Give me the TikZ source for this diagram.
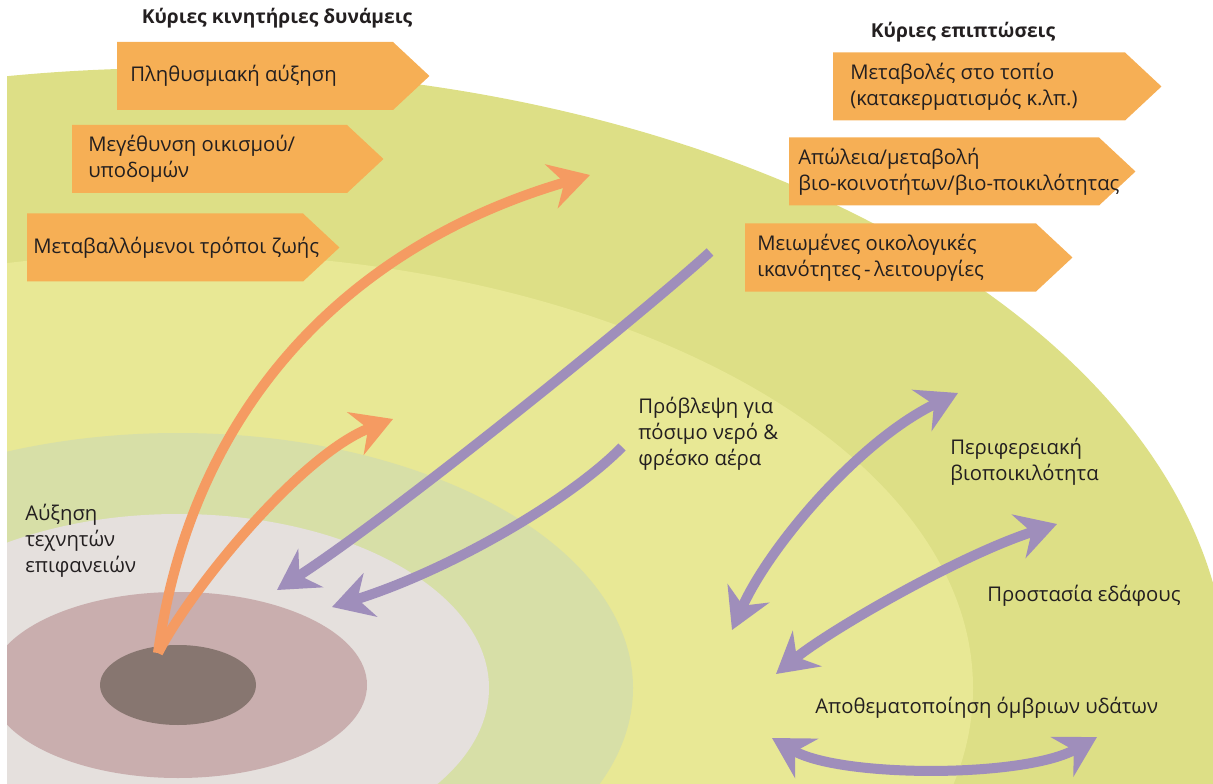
\documentclass[tikz,border=0pt]{standalone}
\usepackage{fontspec}
\setmainfont{Open Sans}
\usepackage{xcolor}
\usepackage{tikz}
\usetikzlibrary{positioning,shapes.geometric,shapes.symbols,arrows.meta}

\definecolor{outergreen}{HTML}{DDDF86}
\definecolor{paleyellow}{HTML}{E8E895}
\definecolor{sage}{HTML}{D7DFA7}
\definecolor{lightgrey}{HTML}{E5E0DD}
\definecolor{rosy}{HTML}{C9AEAE}
\definecolor{coredark}{HTML}{877670}
\definecolor{boxorange}{HTML}{F6AF55}
\definecolor{arroworange}{HTML}{F59B62}
\definecolor{arrowpurple}{HTML}{9F8EBB}
\definecolor{ink}{HTML}{231F20}

\tikzset{
    zone/.style={ellipse, draw=none, inner sep=0pt},
    driver/.style={signal, signal to=east, signal pointer angle=86, fill=boxorange,
        minimum height=51pt, anchor=west, inner sep=0pt, outer sep=0pt},
    boxtext/.style={align=left, inner sep=0pt},
    label/.style={align=left, anchor=west, inner sep=0pt},
    head/.style={font=\fontsize{14.4pt}{17pt}\selectfont\bfseries, inner sep=0pt},
    push/.style={draw=arroworange, line width=7.5pt,
        -{Stealth[length=30pt, width=34pt, inset=10pt]}},
    pull/.style={draw=arrowpurple, line width=7.5pt,
        -{Stealth[length=30pt, width=34pt, inset=10pt]}},
    both/.style={draw=arrowpurple, line width=7.5pt,
        {Stealth[length=30pt, width=34pt, inset=10pt]}-{Stealth[length=30pt, width=34pt, inset=10pt]}}
}

\begin{document}
\begin{tikzpicture}[x=0.75pt, y=-0.75pt,
        every node/.style={text=ink, font=\fontsize{15.2pt}{19.5pt}\selectfont}]
    \useasboundingbox (0,0) rectangle (1213,784);
    \begin{scope}
        \clip (7,0) rectangle (1213,784);
        % Zones
        \node[zone, fill=outergreen, minimum width=1575pt, minimum height=930pt] (region) at (178,688) {};
        \node[zone, fill=paleyellow, minimum width=1192.5pt, minimum height=652.5pt] (catchment) at (178,688) {};
        \node[zone, fill=sage, minimum width=682.5pt, minimum height=382.5pt] (fringe) at (178,688) {};
        \node[zone, fill=lightgrey, minimum width=466.5pt, minimum height=261pt] (suburb) at (178,688) {};
        \node[zone, fill=rosy, minimum width=283.5pt, minimum height=139.5pt] (town) at (178,685) {};
        \node[zone, fill=coredark, minimum width=117pt, minimum height=60pt] (core) at (178,685) {};
    \end{scope}

    % Drivers
    \node[head] (drivershead) at (277,18) {Κύριες κινητήριες δυνάμεις};
    \node[driver, text width=207pt] (pop) at (117,76) {};
    \node[driver, text width=206.25pt] (settle) at (72,159) {};
    \node[driver, text width=207pt] (life) at (27,247.5) {};
    \node[boxtext, right=9.75pt of pop.west] (poptext) {Πληθυσμιακή αύξηση};
    \node[boxtext, right=12pt of settle.west] (settletext) {Μεγέθυνση οικισμού/\\υποδομών};
    \node[boxtext, right=4.5pt of life.west] (lifetext) {Μεταβαλλόμενοι τρόποι ζωής};

    % Impacts
    \node[head] (impactshead) at (963,32) {Κύριες επιπτώσεις};
    \node[driver, text width=219pt] (landscape) at (833,86.5) {};
    \node[driver, text width=232.5pt] (biotic) at (789,171.5) {};
    \node[driver, text width=218.25pt] (ecofunc) at (745,257.5) {};
    \node[boxtext, right=12.75pt of landscape.west] (landscapetext) {Μεταβολές στο τοπίο\\(κατακερματισμός κ.λπ.)};
    \node[boxtext, right=6.75pt of biotic.west] (biotictext) {Απώλεια/μεταβολή\\βιο-κοινοτήτων/βιο-ποικιλότητας};
    \node[boxtext, right=9pt of ecofunc.west] (ecofunctext) {Μειωμένες οικολογικές\\ικανότητες\,-\,λειτουργίες};

    % Labels
    \node[label] (surfaces) at (25,541) {Αύξηση\\τεχνητών\\επιφανειών};
    \node[label] (water) at (638,434) {Πρόβλεψη για\\πόσιμο νερό \&\\φρέσκο αέρα};
    \node[label] (regbio) at (950,462) {Περιφερειακή\\βιοποικιλότητα};
    \node[label] (soil) at (987,596) {Προστασία εδάφους};
    \node[label] (rain) at (815,708) {Αποθεματοποίηση όμβριων υδάτων};

    % Arrow ends
    \coordinate (src) at (158,653);
    \coordinate (popend) at (590,175);
    \coordinate (urbend) at (393,419);
    \coordinate (ecostart) at (710,252);
    \coordinate (ecoend) at (277,590);
    \coordinate (waterstart) at (622,447);
    \coordinate (waterend) at (332,607);
    \coordinate (bioA) at (732,630);
    \coordinate (bioB) at (958,393);
    \coordinate (soilA) at (776,674);
    \coordinate (soilB) at (1057,524);
    \coordinate (rainA) at (772,738);
    \coordinate (rainB) at (1097,737);

    % Arrows
    \draw[push] (src) .. controls (192,405) and (350,245) .. (popend);
    \draw[push] (src) .. controls (190,590) and (300,455) .. (urbend);
    \draw[pull] (ecostart) .. controls (650,307) and (400,510) .. (ecoend);
    \draw[pull] (waterstart) .. controls (570,500) and (450,570) .. (waterend);
    \draw[both] (bioA) .. controls (770,545) and (860,440) .. (bioB);
    \draw[both] (soilA) .. controls (830,630) and (960,555) .. (soilB);
    \draw[both] (rainA) .. controls (840,778) and (1025,778) .. (rainB);
\end{tikzpicture}
\end{document}
